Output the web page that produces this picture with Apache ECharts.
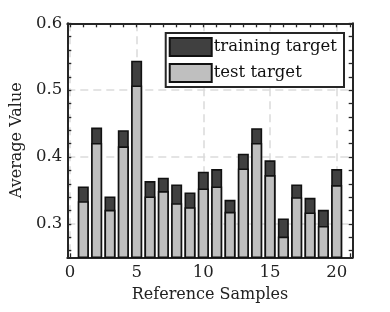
<!DOCTYPE html>
<html><head><meta charset="utf-8">
<script src="https://cdn.jsdelivr.net/npm/echarts@6/dist/echarts.min.js"></script>
<style>html,body{margin:0;padding:0;background:#fff}#c{width:390px;height:312px}</style>
</head><body><div id="c"></div>
<script>
var samples = [1,2,3,4,5,6,7,8,9,10,11,12,13,14,15,16,17,18,19,20];
var trainingTarget = [0.356,0.444,0.341,0.440,0.544,0.364,0.369,0.359,0.347,0.378,0.382,0.336,0.405,0.443,0.395,0.308,0.359,0.339,0.321,0.382];
var testTarget = [0.334,0.421,0.321,0.416,0.507,0.341,0.349,0.331,0.325,0.353,0.356,0.318,0.383,0.421,0.373,0.281,0.340,0.317,0.297,0.358];
var yTicks = [0.3,0.4,0.5,0.6];
var xTicks = [0,5,10,15,20];
var yMinorTicks = [0.26,0.28,0.3,0.32,0.34,0.36,0.38,0.4,0.42,0.44,0.46,0.48,0.5,0.52,0.54,0.56,0.58,0.6];
var xMinorTicks = [0,1,2,3,4,5,6,7,8,9,10,11,12,13,14,15,16,17,18,19,20,21];

var FONT = 'DejaVu Serif';
var X_MIN = -0.2, X_MAX = 21.2, Y_MIN = 0.25, Y_MAX = 0.6;
var chart = echarts.init(document.getElementById('c'));
function pairs(vals){ return samples.map(function(s,i){ return [s, vals[i]]; }); }
var axisLineStyle = {color:'#262626', width:2};
var tickStyle = {color:'#262626', width:1.3};
var gridLineStyle = {color:'#dcdcdc', width:1.6, type:[8,5]};
var labelStyle = {fontFamily:FONT, fontSize:16.5, color:'#222'};

chart.setOption({
  animation:false,
  grid:{left:67.3, right:37.3, top:23.3, bottom:54.7, containLabel:false},
  legend:{
    orient:'vertical', right:46, top:33,
    itemWidth:42, itemHeight:18, itemGap:6, icon:'rect',
    backgroundColor:'#fff', borderColor:'#262626', borderWidth:2,
    padding:[4,7,4,3],
    textStyle:{fontFamily:FONT, fontSize:16.5, color:'#111', padding:[0,0,0,-3]},
    data:['training target','test target']
  },
  xAxis:[{
    type:'value', min:X_MIN, max:X_MAX, position:'bottom',
    name:'Reference Samples', nameLocation:'middle', nameGap:30,
    nameTextStyle:{fontFamily:FONT, fontSize:16, color:'#222'},
    axisLine:{show:true, onZero:false, lineStyle:axisLineStyle},
    axisTick:{show:true, inside:true, length:4, customValues:xMinorTicks, lineStyle:tickStyle},
    axisLabel:Object.assign({margin:7, customValues:xTicks}, labelStyle),
    splitLine:{show:false}
  },{
    type:'value', min:X_MIN, max:X_MAX, position:'top',
    axisLine:{show:true, onZero:false, lineStyle:axisLineStyle},
    axisTick:{show:true, inside:true, length:4, customValues:xMinorTicks, lineStyle:tickStyle},
    axisLabel:{show:false}, splitLine:{show:false}
  },{
    type:'value', min:X_MIN, max:X_MAX, position:'bottom',
    axisLine:{show:false}, axisLabel:{show:false},
    axisTick:{show:false, customValues:xTicks},
    splitLine:{show:true, lineStyle:gridLineStyle}
  }],
  yAxis:[{
    type:'value', min:Y_MIN, max:Y_MAX, position:'left',
    name:'Average Value', nameLocation:'middle', nameGap:33,
    nameTextStyle:{fontFamily:FONT, fontSize:16, color:'#222'},
    axisLine:{show:true, onZero:false, lineStyle:axisLineStyle},
    axisTick:{show:true, inside:true, length:4, customValues:yMinorTicks, lineStyle:tickStyle},
    axisLabel:Object.assign({margin:5, customValues:yTicks, formatter:function(v){return v.toFixed(1);}}, labelStyle),
    splitLine:{show:false}
  },{
    type:'value', min:Y_MIN, max:Y_MAX, position:'right',
    axisLine:{show:true, onZero:false, lineStyle:axisLineStyle},
    axisTick:{show:true, inside:true, length:4, customValues:yMinorTicks, lineStyle:tickStyle},
    axisLabel:{show:false}, splitLine:{show:false}
  },{
    type:'value', min:Y_MIN, max:Y_MAX, position:'left',
    axisLine:{show:false}, axisLabel:{show:false},
    axisTick:{show:false, customValues:yTicks},
    splitLine:{show:true, lineStyle:gridLineStyle}
  }],
  series:[{
    name:'training target', type:'bar', barWidth:11, barGap:'-100%',
    xAxisIndex:0, yAxisIndex:0, z:3,
    data:pairs(trainingTarget),
    itemStyle:{color:'#404040', borderColor:'#111', borderWidth:1.6}
  },{
    name:'test target', type:'bar', barWidth:11, barGap:'-100%',
    xAxisIndex:0, yAxisIndex:0, z:4,
    data:pairs(testTarget),
    itemStyle:{color:'#bfbfbf', borderColor:'#111', borderWidth:1.6}
  }]
});
</script></body></html>
